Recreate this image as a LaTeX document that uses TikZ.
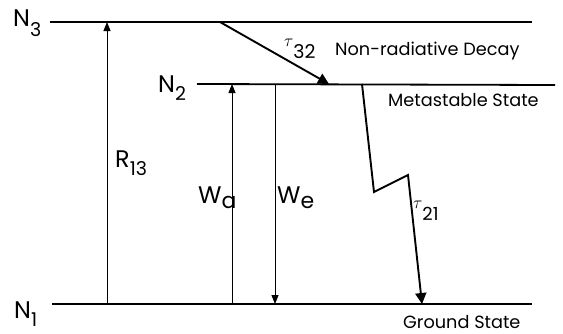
\documentclass[tikz,border=0pt]{standalone}
\usepackage{fontspec}
\setmainfont{Poppins}
\usetikzlibrary{arrows.meta}
\begin{document}
\begin{tikzpicture}[x=1pt,y=-1pt,
  level/.style={line width=1.8pt},
  thinarrow/.style={line width=0.9pt,-{Triangle[length=9pt,width=7pt]}},
  thickarrow/.style={line width=1.9pt,line join=miter,-{Triangle[length=11pt,width=11pt]}},
  biglabel/.style={font=\fontsize{24}{24}\selectfont, inner sep=0pt, anchor=base west},
  taulabel/.style={font=\fontsize{19}{19}\selectfont, inner sep=0pt, anchor=base west},
  caption/.style={font=\fontsize{17.7}{17.7}\selectfont, inner sep=0pt, anchor=base west}]
\useasboundingbox (0,0) rectangle (563,333);
% level lines
\coordinate (n3a) at (50,22);  \coordinate (n3b) at (532,22);
\coordinate (n2a) at (197,84); \coordinate (n2b) at (555,85);
\coordinate (n1a) at (52,304); \coordinate (n1b) at (532,304);
\draw[level] (n3a) -- (n3b);
\draw[level] (n2a) -- (n2b);
\draw[level] (n1a) -- (n1b);
% level labels
\node[biglabel] (N3) at (13,26) {N\raisebox{-10pt}{\fontsize{19}{19}\selectfont 3}};
\node[biglabel] (N2) at (158,92) {N\raisebox{-8pt}{\fontsize{19}{19}\selectfont 2}};
\node[biglabel] (N1) at (14,318) {N\raisebox{-8pt}{\fontsize{19}{19}\selectfont 1}};
% transitions
\coordinate (r13b) at (107,304); \coordinate (r13t) at (107,22);
\coordinate (wab) at (232,304);  \coordinate (wat) at (232,84);
\coordinate (wet) at (275,84);   \coordinate (web) at (275,304);
\draw[thinarrow] (r13b) -- (r13t);
\draw[thinarrow] (wab) -- (wat);
\draw[thinarrow] (wet) -- (web);
\node[biglabel] (R13) at (115,167) {R\raisebox{-8pt}{\fontsize{19}{19}\selectfont 13}};
\node[biglabel] (Wa) at (198,203) {W\raisebox{-5pt}{\fontsize{22}{22}\selectfont a}};
\node[biglabel] (We) at (277,203) {W\raisebox{-5pt}{\fontsize{22}{22}\selectfont e}};
% non-radiative decay
\coordinate (t32a) at (220,22); \coordinate (t32b) at (329,84);
\draw[thickarrow] (t32a) -- (t32b);
\node[taulabel] (T32) at (284,46) {\fontsize{18}{18}\selectfont$\tau$\raisebox{-12pt}{\fontsize{19}{19}\selectfont 32}};
% radiative decay zigzag
\coordinate (t21a) at (362,84); \coordinate (z1) at (374,192);
\coordinate (z2) at (408,175);  \coordinate (t21b) at (422,304);
\draw[thickarrow] (t21a) -- (z1) -- (z2) -- (t21b);
\node[taulabel] (T21) at (413,208) {\fontsize{18}{18}\selectfont$\tau$\raisebox{-12pt}{\fontsize{18}{18}\selectfont 21}};
% captions
\node[caption] (nrd) at (335,55) {Non-radiative Decay};
\node[caption] (ms) at (388,106) {Metastable State};
\node[caption] (gs) at (403,328) {Ground State};
\end{tikzpicture}
\end{document}
